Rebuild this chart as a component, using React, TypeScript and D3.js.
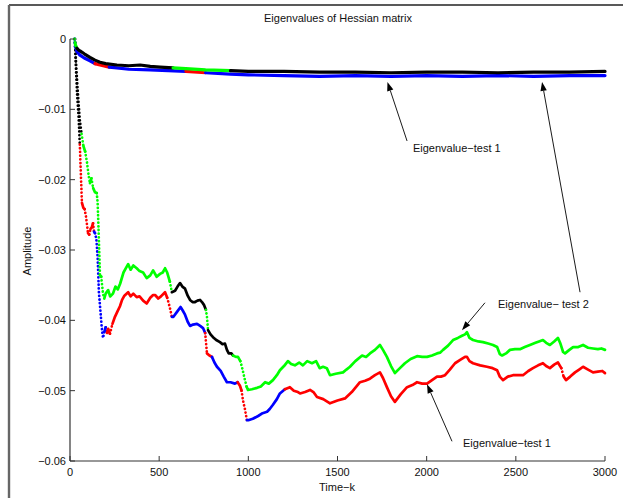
import React from "react";
import * as d3 from "d3";

type Pt = [number, number];
type Seg = [number, number, string];

const TITLE = "Eigenvalues of Hessian matrix";
const X_LABEL = "Time\u2212k";
const Y_LABEL = "Amplitude";
const X_TICKS = [0, 500, 1000, 1500, 2000, 2500, 3000];
const Y_TICKS = [0, -0.01, -0.02, -0.03, -0.04, -0.05, -0.06];

// Fast-settling eigenvalues (upper band)
const upperBlack: Pt[] = [
  [25, 0], [30, -0.0008], [38, -0.0013], [45, -0.0015], [56, -0.0017], [80, -0.0021], [112, -0.0026],
  [140, -0.003], [168, -0.0033], [200, -0.0035], [263, -0.0037], [330, -0.0038], [393, -0.0037],
  [450, -0.0039], [505, -0.004], [578, -0.0041], [650, -0.0042], [760, -0.0044], [900, -0.0045],
  [1000, -0.0046], [1200, -0.0046], [1400, -0.0047], [1600, -0.0047], [1800, -0.0048], [2000, -0.0047],
  [2200, -0.0047], [2400, -0.0048], [2600, -0.0047], [2800, -0.0047], [3000, -0.0046],
];
const upperBlackColors: Seg[] = [
  [0, 40, "#00ff00"], [40, 580, "#000000"], [580, 900, "#00ff00"], [900, 3000, "#000000"],
];

const upperBlue: Pt[] = [
  [25, 0], [30, -0.0011], [40, -0.0018], [56, -0.0023], [80, -0.0027], [112, -0.0031], [140, -0.0035],
  [168, -0.0037], [220, -0.004], [263, -0.0041], [330, -0.0043], [449, -0.0044], [550, -0.0045],
  [650, -0.0046], [760, -0.0048], [900, -0.005], [1000, -0.0051], [1200, -0.0052], [1400, -0.0053],
  [1600, -0.0052], [1800, -0.0053], [2000, -0.0052], [2200, -0.0053], [2400, -0.0052], [2600, -0.0053],
  [2800, -0.0052], [3000, -0.0052],
];
const upperBlueColors: Seg[] = [
  [0, 130, "#0000ff"], [130, 225, "#ff0000"], [225, 650, "#0000ff"], [650, 740, "#ff0000"], [740, 3000, "#0000ff"],
];

// Slow eigenvalue, test 2
const test2: Pt[] = [
  [28, 0], [35, -0.004], [45, -0.008], [55, -0.0115], [65, -0.0135], [75, -0.0152], [85, -0.016],
  [95, -0.0175], [105, -0.0195], [112, -0.0205], [120, -0.0198], [130, -0.0212], [140, -0.0218],
  [150, -0.0219], [155, -0.0233], [160, -0.027], [165, -0.031], [168, -0.0336], [175, -0.0338],
  [185, -0.0362], [192, -0.0369], [200, -0.0362], [214, -0.0357], [225, -0.0366], [241, -0.0362],
  [255, -0.0352], [268, -0.0356], [281, -0.0348], [300, -0.0332], [315, -0.0325], [326, -0.032],
  [340, -0.0328], [355, -0.0322], [374, -0.0326], [390, -0.033], [410, -0.0332], [430, -0.034],
  [450, -0.0336], [466, -0.0329], [486, -0.0338], [505, -0.0334], [520, -0.0332], [533, -0.0326],
  [545, -0.0332], [560, -0.0345], [571, -0.036], [589, -0.0358], [603, -0.0352], [617, -0.0347],
  [630, -0.0352], [645, -0.0355], [660, -0.0365], [673, -0.0371], [687, -0.0374], [701, -0.0374],
  [715, -0.0372], [729, -0.0371], [740, -0.0374], [751, -0.0378], [762, -0.0385], [768, -0.0395],
  [774, -0.0414], [788, -0.042], [802, -0.0424], [820, -0.0428], [841, -0.0431], [855, -0.0434],
  [869, -0.0433], [880, -0.0442], [890, -0.0447], [905, -0.0447], [914, -0.045], [930, -0.0452],
  [942, -0.0452], [955, -0.0458], [964, -0.0466], [972, -0.0475], [981, -0.0485], [990, -0.0494],
  [998, -0.0499], [1020, -0.0498], [1049, -0.0496], [1070, -0.0494], [1094, -0.0488], [1115, -0.049],
  [1138, -0.0485], [1160, -0.0478], [1177, -0.0471], [1200, -0.0465], [1222, -0.0458], [1240, -0.0462],
  [1261, -0.0464], [1285, -0.046], [1306, -0.0464], [1330, -0.0458], [1357, -0.0461], [1380, -0.0458],
  [1400, -0.0468], [1419, -0.0466], [1440, -0.0468], [1458, -0.0478], [1490, -0.0476], [1531, -0.0474],
  [1550, -0.047], [1570, -0.0466], [1600, -0.0458], [1638, -0.045], [1660, -0.0452], [1682, -0.0447],
  [1710, -0.0442], [1738, -0.0435], [1755, -0.0442], [1777, -0.0452], [1800, -0.0465], [1822, -0.0475],
  [1850, -0.0468], [1878, -0.0461], [1910, -0.0455], [1946, -0.0451], [1975, -0.0452], [2002, -0.0452],
  [2030, -0.045], [2058, -0.0447], [2075, -0.0446], [2092, -0.0442], [2120, -0.0436], [2148, -0.0428],
  [2175, -0.0425], [2198, -0.0422], [2215, -0.042], [2226, -0.0417], [2240, -0.0425], [2260, -0.0428],
  [2290, -0.043], [2316, -0.0431], [2345, -0.0433], [2372, -0.0435], [2395, -0.0438], [2410, -0.0448],
  [2423, -0.045], [2445, -0.0447], [2467, -0.0442], [2495, -0.0441], [2523, -0.0441], [2550, -0.0438],
  [2579, -0.0435], [2610, -0.0432], [2630, -0.043], [2652, -0.0428], [2670, -0.0432], [2691, -0.0435],
  [2715, -0.043], [2736, -0.0425], [2750, -0.0433], [2765, -0.0445], [2776, -0.0447], [2800, -0.0442],
  [2821, -0.0438], [2850, -0.0438], [2877, -0.0435], [2905, -0.0439], [2933, -0.044], [2960, -0.0441],
  [2980, -0.044], [3000, -0.0442],
];
const test2Colors: Seg[] = [
  [0, 68, "#000000"], [68, 580, "#00ff00"], [580, 762, "#000000"], [762, 772, "#00ff00"],
  [772, 920, "#000000"], [920, 3000, "#00ff00"],
];

// Slow eigenvalue, test 1
const test1: Pt[] = [
  [28, 0], [33, -0.004], [40, -0.008], [48, -0.011], [55, -0.015], [62, -0.02], [67, -0.0233],
  [75, -0.024], [82, -0.0242], [90, -0.0253], [101, -0.0276], [108, -0.0278], [115, -0.027],
  [122, -0.0268], [129, -0.0262], [135, -0.0274], [140, -0.0276], [148, -0.0285], [155, -0.031],
  [162, -0.036], [170, -0.0385], [178, -0.041], [185, -0.0425], [193, -0.0416], [200, -0.041],
  [207, -0.0418], [214, -0.0412], [224, -0.0419], [238, -0.0405], [252, -0.0395], [265, -0.0388],
  [280, -0.038], [292, -0.0371], [305, -0.0365], [326, -0.036], [340, -0.0366], [355, -0.0362],
  [374, -0.0367], [390, -0.0366], [410, -0.0372], [430, -0.0376], [450, -0.0368], [466, -0.0364],
  [477, -0.0364], [495, -0.0369], [510, -0.0366], [533, -0.036], [545, -0.0368], [560, -0.0382],
  [571, -0.0395], [580, -0.0395], [600, -0.0388], [620, -0.0381], [632, -0.0386], [645, -0.0392],
  [660, -0.0402], [673, -0.0408], [690, -0.0406], [712, -0.0405], [730, -0.0408], [746, -0.0411],
  [758, -0.0418], [768, -0.0447], [782, -0.045], [796, -0.0452], [810, -0.046], [824, -0.0466],
  [845, -0.0472], [862, -0.048], [880, -0.0488], [900, -0.0488], [925, -0.049], [940, -0.0488],
  [953, -0.0493], [962, -0.05], [970, -0.0514], [980, -0.0525], [992, -0.0542], [1000, -0.0542],
  [1025, -0.054], [1055, -0.0536], [1080, -0.0532], [1105, -0.053], [1120, -0.0526], [1138, -0.052],
  [1160, -0.0512], [1177, -0.0504], [1205, -0.0498], [1233, -0.0495], [1255, -0.05], [1278, -0.0502],
  [1290, -0.0504], [1318, -0.0502], [1346, -0.0499], [1365, -0.0502], [1385, -0.0509], [1420, -0.0512],
  [1458, -0.0518], [1500, -0.0514], [1542, -0.0511], [1580, -0.0502], [1626, -0.0488], [1655, -0.0486],
  [1682, -0.0483], [1710, -0.0478], [1738, -0.0474], [1755, -0.0482], [1777, -0.0495], [1800, -0.0508],
  [1822, -0.0516], [1855, -0.0505], [1890, -0.0495], [1920, -0.0492], [1946, -0.0488], [1975, -0.049],
  [2002, -0.049], [2030, -0.0485], [2058, -0.048], [2080, -0.048], [2103, -0.0478], [2130, -0.047],
  [2159, -0.0461], [2190, -0.0456], [2215, -0.0452], [2226, -0.0452], [2240, -0.0458], [2260, -0.0461],
  [2300, -0.0464], [2338, -0.0466], [2370, -0.0468], [2395, -0.0471], [2410, -0.048], [2428, -0.0485],
  [2455, -0.048], [2484, -0.0478], [2510, -0.0478], [2540, -0.0478], [2570, -0.0472], [2596, -0.0468],
  [2625, -0.0464], [2652, -0.0461], [2670, -0.0465], [2691, -0.0468], [2715, -0.0463], [2736, -0.046],
  [2755, -0.0468], [2768, -0.048], [2781, -0.0485], [2805, -0.048], [2832, -0.0474], [2855, -0.047],
  [2877, -0.0466], [2905, -0.047], [2933, -0.0474], [2960, -0.0473], [2985, -0.0472], [3000, -0.0475],
];
const test1Colors: Seg[] = [
  [0, 52, "#000000"], [52, 135, "#ff0000"], [135, 205, "#0000ff"], [205, 575, "#ff0000"],
  [575, 760, "#0000ff"], [760, 790, "#ff0000"], [790, 940, "#0000ff"], [940, 995, "#ff0000"],
  [995, 1200, "#0000ff"], [1200, 3000, "#ff0000"],
];

// Annotations: label text, label anchor (t, value), arrow tail and head (t, value)
const annotationLabels = ["Eigenvalue\u2212test 1", "", "Eigenvalue\u2212 test 2", "Eigenvalue\u2212test 1"];
const annotationTextPos: Pt[] = [[1923, -0.0155], [0, 0], [2400, -0.0377], [2204, -0.0574]];
const arrowTails: Pt[] = [[1890, -0.0145], [2860, -0.036], [2327, -0.0375], [2142, -0.0572]];
const arrowHeads: Pt[] = [[1780, -0.0061], [2647, -0.0061], [2198, -0.0414], [2002, -0.0491]];

const W = 623;
const H = 498;
const FONT = "'Liberation Sans', Arial, Helvetica, sans-serif";

const x = d3.scaleLinear().domain([0, 3000]).range([70, 605]);
const y = d3.scaleLinear().domain([-0.06, 0]).range([461, 39]);

const line = d3
  .line<Pt>()
  .x((d) => x(d[0]))
  .y((d) => y(d[1]));

function colorAt(segs: Seg[], t: number): string {
  for (const s of segs) if (t >= s[0] && t < s[1]) return s[2];
  return segs[segs.length - 1][2];
}

type Run = { pts: Pt[]; color: string; dotted: boolean };

// Split a series into runs of equal colour; steep stretches are drawn as sparse dots
function buildRuns(data: Pt[], segs: Seg[]): Run[] {
  const runs: Run[] = [];
  for (let i = 0; i < data.length - 1; i++) {
    const a = data[i];
    const b = data[i + 1];
    const color = colorAt(segs, (a[0] + b[0]) / 2);
    const dx = Math.abs(x(b[0]) - x(a[0]));
    const dy = Math.abs(y(b[1]) - y(a[1]));
    const dotted = dy / Math.max(dx, 0.01) > 3.5 && dy > 4;
    const last = runs[runs.length - 1];
    if (last && last.color === color && last.dotted === dotted) last.pts.push(b);
    else runs.push({ pts: [a, b], color, dotted });
  }
  return runs;
}

function Series({ data, segs, width }: { data: Pt[]; segs: Seg[]; width: number }) {
  const runs = buildRuns(data, segs);
  return (
    <g>
      {runs.map((r, i) => (
        <path
          key={i}
          d={line(r.pts) || ""}
          fill="none"
          stroke={r.color}
          strokeWidth={width}
          strokeLinecap="round"
          strokeLinejoin="round"
          strokeDasharray={r.dotted ? "0.1 3.6" : undefined}
        />
      ))}
    </g>
  );
}

function Arrow({ from, to }: { from: Pt; to: Pt }) {
  const x1 = x(from[0]);
  const y1 = y(from[1]);
  const x2 = x(to[0]);
  const y2 = y(to[1]);
  const ang = Math.atan2(y2 - y1, x2 - x1);
  const len = 9;
  const half = 3.2;
  const bx = x2 - len * Math.cos(ang);
  const by = y2 - len * Math.sin(ang);
  const px = -Math.sin(ang) * half;
  const py = Math.cos(ang) * half;
  return (
    <g>
      <line x1={x1} y1={y1} x2={bx} y2={by} stroke="#000" strokeWidth={0.9} />
      <polygon points={`${x2},${y2} ${bx + px},${by + py} ${bx - px},${by - py}`} fill="#000" />
    </g>
  );
}

const fmtY = (v: number) => (v === 0 ? "0" : "\u2212" + Math.abs(v).toFixed(2));

export default function App() {
  const axisColor = "#333";
  return (
    <svg
      width={W}
      height={H}
      style={{ position: "absolute", left: 0, top: 0, background: "#fff" }}
      fontFamily={FONT}
    >
      <rect x={0} y={0} width={W} height={H} fill="#fff" />
      {/* outer frame */}
      <line x1={9} y1={5} x2={W} y2={5} stroke="#222" strokeWidth={1.6} />
      <line x1={9} y1={5} x2={9} y2={H} stroke="#666" strokeWidth={2.4} />

      <text x={338} y={22} fontSize={11} textAnchor="middle" fill="#111">
        {TITLE}
      </text>

      {/* series */}
      <Series data={test1} segs={test1Colors} width={2.7} />
      <Series data={test2} segs={test2Colors} width={2.7} />
      <Series data={upperBlue} segs={upperBlueColors} width={3.2} />
      <Series data={upperBlack} segs={upperBlackColors} width={3.2} />

      {/* axes */}
      <line x1={x(0)} y1={y(0)} x2={x(0)} y2={y(-0.06)} stroke={axisColor} strokeWidth={1.2} />
      <line x1={x(0)} y1={y(-0.06)} x2={x(3000)} y2={y(-0.06)} stroke={axisColor} strokeWidth={1.2} />
      {X_TICKS.map((t) => (
        <g key={"xt" + t}>
          <line x1={x(t)} y1={y(-0.06)} x2={x(t)} y2={y(-0.06) - 5} stroke={axisColor} strokeWidth={1} />
          <text x={x(t)} y={476} fontSize={11} textAnchor="middle" fill="#111">
            {t}
          </text>
        </g>
      ))}
      {Y_TICKS.map((v) => (
        <g key={"yt" + v}>
          <line x1={x(0)} y1={y(v)} x2={x(0) + 5} y2={y(v)} stroke={axisColor} strokeWidth={1} />
          <text x={66} y={y(v) + 4} fontSize={11} textAnchor="end" fill="#111">
            {fmtY(v)}
          </text>
        </g>
      ))}
      <text x={337} y={491} fontSize={11} textAnchor="middle" fill="#111">
        {X_LABEL}
      </text>
      <text transform="translate(31,251) rotate(-90)" fontSize={11} textAnchor="middle" fill="#111">
        {Y_LABEL}
      </text>

      {/* annotations */}
      {arrowTails.map((t, i) => (
        <Arrow key={"ar" + i} from={t} to={arrowHeads[i]} />
      ))}
      {annotationLabels.map((s, i) =>
        s ? (
          <text
            key={"an" + i}
            x={x(annotationTextPos[i][0])}
            y={y(annotationTextPos[i][1]) + 4}
            fontSize={11}
            fill="#111"
          >
            {s}
          </text>
        ) : null
      )}
    </svg>
  );
}
